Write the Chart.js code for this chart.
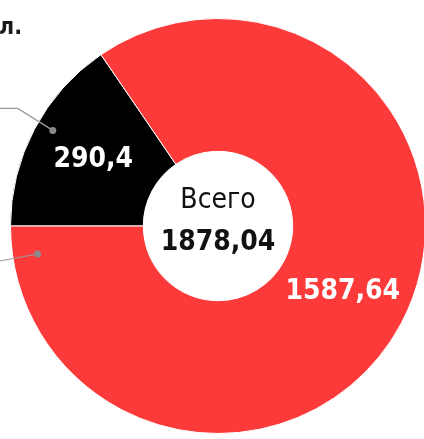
<!DOCTYPE html>
<html>
<head>
<meta charset="utf-8">
<script src="https://cdn.jsdelivr.net/npm/chart.js@4.4.1/dist/chart.umd.min.js"></script>
<style>
  html, body { margin: 0; padding: 0; width: 424px; height: 439px; overflow: hidden; background: #fff; }
  #wrap { position: absolute; left: 0; top: 0; width: 440px; height: 439px; }
  #unit { position: absolute; left: -1px; top: 13px; font: bold 23px "DejaVu Sans Condensed", "DejaVu Sans", sans-serif; color: #1a1a1a; z-index: 2; }
</style>
</head>
<body>
<div id="unit">л.</div>
<div id="wrap"><canvas id="donut" width="440" height="439"></canvas></div>
<script>
var categories = ['Категория 1', 'Категория 2'];
var values = [290.4, 1587.64];
var colors = ['#000000', '#fd3a3a'];
var totalLabel = 'Всего';
var totalValue = 1878.04;

function fmt(v) {
    return String(v).replace('.', ',');
}

var labelsPlugin = {
    id: 'labels',
    afterDatasetsDraw: function(chart) {
        var ctx = chart.ctx;
        var arcs = chart.getDatasetMeta(0).data;
        ctx.save();

        // callout leader lines (their labels are cropped off)
        var a0 = arcs[0], a1 = arcs[1];
        var cx = a0.x, cy = a0.y;
        var ang1 = a0.startAngle + 0.54 * (a0.endAngle - a0.startAngle);
        var r1 = a0.outerRadius * 0.92;
        var p1 = { x: cx + Math.cos(ang1) * r1, y: cy + Math.sin(ang1) * r1 };
        var ang2 = a1.endAngle - 0.154;
        var r2 = a1.outerRadius * 0.88;
        var p2 = { x: cx + Math.cos(ang2) * r2, y: cy + Math.sin(ang2) * r2 };

        ctx.strokeStyle = '#9a9a9a';
        ctx.lineWidth = 1.2;
        ctx.beginPath();
        ctx.moveTo(0, p1.y - 22);
        ctx.lineTo(p1.x - 35, p1.y - 22);
        ctx.lineTo(p1.x, p1.y);
        ctx.stroke();
        ctx.beginPath();
        ctx.moveTo(0, p2.y + 7);
        ctx.lineTo(p2.x, p2.y);
        ctx.stroke();
        ctx.fillStyle = '#8a8a8a';
        ctx.beginPath(); ctx.arc(p1.x, p1.y, 3.5, 0, Math.PI * 2); ctx.fill();
        ctx.beginPath(); ctx.arc(p2.x, p2.y, 3.5, 0, Math.PI * 2); ctx.fill();

        // value labels on the slices
        ctx.fillStyle = '#ffffff';
        ctx.textAlign = 'center';
        ctx.textBaseline = 'middle';
        ctx.font = 'bold 28px "DejaVu Sans Condensed", "DejaVu Sans", sans-serif';
        arcs.forEach(function(arc, i) {
            var p = arc.getCenterPoint();
            ctx.fillText(fmt(values[i]), p.x, p.y);
        });

        // total in the hole
        ctx.fillStyle = '#111111';
        ctx.font = '28px "DejaVu Sans Condensed", "DejaVu Sans", sans-serif';
        ctx.fillText(totalLabel, cx, cy - 25);
        ctx.font = 'bold 28px "DejaVu Sans Condensed", "DejaVu Sans", sans-serif';
        ctx.fillText(fmt(totalValue.toFixed(2)), cx, cy + 17);
        ctx.restore();
    }
};

new Chart(document.getElementById('donut'), {
    type: 'doughnut',
    data: {
        labels: categories,
        datasets: [{
            data: values,
            backgroundColor: colors,
            borderColor: '#ffffff',
            borderWidth: 1
        }]
    },
    options: {
        responsive: false,
        animation: false,
        rotation: 270,
        cutout: '36%',
        layout: { padding: { left: 10, right: 14, top: 18, bottom: 5 } },
        plugins: {
            legend: { display: false },
            tooltip: { enabled: false }
        }
    },
    plugins: [labelsPlugin]
});
</script>
</body>
</html>
